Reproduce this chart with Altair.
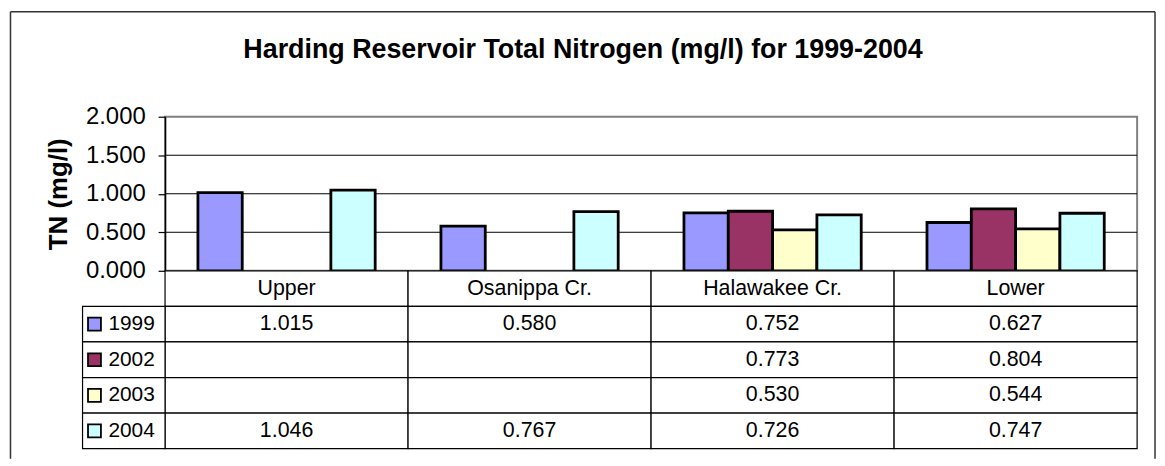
import altair as alt
import pandas as pd

sites = ["Upper", "Osanippa Cr.", "Halawakee Cr.", "Lower"]
years = ["1999", "2002", "2003", "2004"]
colors = ["#9999FF", "#993366", "#FFFFCC", "#CCFFFF"]
tn_1999 = [1.015, 0.580, 0.752, 0.627]
tn_2002 = [None, None, 0.773, 0.804]
tn_2003 = [None, None, 0.530, 0.544]
tn_2004 = [1.046, 0.767, 0.726, 0.747]
y_ticks = [0.0, 0.5, 1.0, 1.5, 2.0]
grid_vals = [0.5, 1.0, 1.5]
title_text = "Harding Reservoir Total Nitrogen (mg/l) for 1999-2004"

series = {"1999": tn_1999, "2002": tn_2002, "2003": tn_2003, "2004": tn_2004}
rows = []
for yr in years:
    for s, v in zip(sites, series[yr]):
        rows.append({"site": s, "year": yr, "tn": v})
df = pd.DataFrame(rows)

FONT = "Liberation Sans"
W, H = 978, 155
TH = 179

x_scale = alt.Scale(domain=sites, paddingInner=0, paddingOuter=0)
xo_scale = alt.Scale(domain=years, paddingInner=0, paddingOuter=0.742)
color_scale = alt.Scale(domain=years, range=colors)
y_scale = alt.Scale(domain=[0, 2], nice=False)

y_axis = alt.Axis(
    values=y_ticks, format=".3f", grid=False, title="TN (mg/l)",
    labelFontSize=24, labelFont=FONT, labelColor="black", labelOverlap=False,
    labelFlush=False, labelBound=False,
    titleFont=FONT, titleFontSize=26, titleFontWeight="bold", titleColor="black",
    titlePadding=14, tickSize=7, tickColor="black", tickWidth=1.2,
    domainColor="black", domainWidth=1.5, labelPadding=13)

bars = alt.Chart(df).transform_filter("isValid(datum.tn)").mark_bar(
    stroke="black", strokeWidth=2.8
).encode(
    x=alt.X("site:N", scale=x_scale, axis=None, sort=sites),
    xOffset=alt.XOffset("year:N", scale=xo_scale, sort=years),
    y=alt.Y("tn:Q", scale=y_scale, axis=y_axis, title="TN (mg/l)"),
    color=alt.Color("year:N", scale=color_scale, legend=None),
)

grid = alt.Chart(pd.DataFrame({"tn": grid_vals})).mark_rule(
    color="black", strokeWidth=1
).encode(y=alt.Y("tn:Q", scale=y_scale, axis=y_axis, title="TN (mg/l)"))

title = alt.Chart(pd.DataFrame({"t": [title_text]})).mark_text(
    font=FONT, fontSize=27, fontWeight="bold", color="black", align="center", baseline="alphabetic"
).encode(x=alt.value(420.5), y=alt.value(-59), text="t:N")

frame_l = alt.Chart(pd.DataFrame({"a": [0]})).mark_rule(color="#333333", strokeWidth=1.5).encode(
    x=alt.value(-155.5), y=alt.value(-105.5), y2=alt.value(344))
frame_t = alt.Chart(pd.DataFrame({"a": [0]})).mark_rule(color="#333333", strokeWidth=1.5).encode(
    x=alt.value(-155.5), x2=alt.value(996), y=alt.value(-105.5))
frame_r = alt.Chart(pd.DataFrame({"a": [0]})).mark_rule(color="#333333", strokeWidth=1.5).encode(
    x=alt.value(996), y=alt.value(-105.5), y2=alt.value(344))

top = alt.layer(grid, bars, title, frame_l, frame_t, frame_r).properties(
    width=W, height=H, view=alt.ViewBackground(stroke="#808080", strokeWidth=2)
)

# table
row_domain = ["h"] + years
ty_scale = alt.Scale(domain=row_domain, paddingInner=0, paddingOuter=0)
cells = pd.DataFrame([{"site": s, "row": r} for s in sites for r in row_domain])
cell_rect = alt.Chart(cells).mark_rect(fill="white", stroke="black", strokeWidth=1.2).encode(
    x=alt.X("site:N", scale=x_scale, axis=None, sort=sites),
    y=alt.Y("row:N", scale=ty_scale, axis=None, sort=row_domain),
)
label_rows = pd.DataFrame({"row": years})
label_rect = alt.Chart(label_rows).mark_rect(fill="white", stroke="black", strokeWidth=1.2).encode(
    x=alt.value(-83), x2=alt.value(0),
    y=alt.Y("row:N", scale=ty_scale, axis=None, sort=row_domain),
)
swatch = alt.Chart(label_rows).mark_square(size=169, opacity=1, stroke="black", strokeWidth=1.8).encode(
    x=alt.value(-71),
    y=alt.Y("row:N", scale=ty_scale, axis=None, sort=row_domain),
    color=alt.Color("row:N", scale=color_scale, legend=None),
)
year_txt = alt.Chart(label_rows).mark_text(font=FONT, fontSize=21, color="black", align="left", baseline="middle").encode(
    x=alt.value(-57),
    y=alt.Y("row:N", scale=ty_scale, axis=None, sort=row_domain),
    text="row:N",
)
header_df = pd.DataFrame({"site": sites, "row": ["h"] * len(sites)})
header_txt = alt.Chart(header_df).mark_text(font=FONT, fontSize=21.5, color="black", baseline="middle").encode(
    x=alt.X("site:N", scale=x_scale, axis=None, sort=sites),
    y=alt.Y("row:N", scale=ty_scale, axis=None, sort=row_domain),
    text="site:N",
)
val_txt = alt.Chart(df).transform_filter("isValid(datum.tn)").mark_text(
    font=FONT, fontSize=21.5, color="black", baseline="middle"
).encode(
    x=alt.X("site:N", scale=x_scale, axis=None, sort=sites),
    y=alt.Y("year:N", scale=ty_scale, axis=None, sort=row_domain),
    text=alt.Text("tn:Q", format=".3f"),
)
table = alt.layer(cell_rect, label_rect, swatch, year_txt, header_txt, val_txt).properties(
    width=W, height=TH, view=alt.ViewBackground(stroke=None)
)

chart = alt.vconcat(top, table, spacing=0, bounds="flush").properties(
    padding=0, background="white"
).configure_view(stroke=None).configure_text(font=FONT)

chart.save("out.html", embed_options={"renderer": "svg", "actions": False})
